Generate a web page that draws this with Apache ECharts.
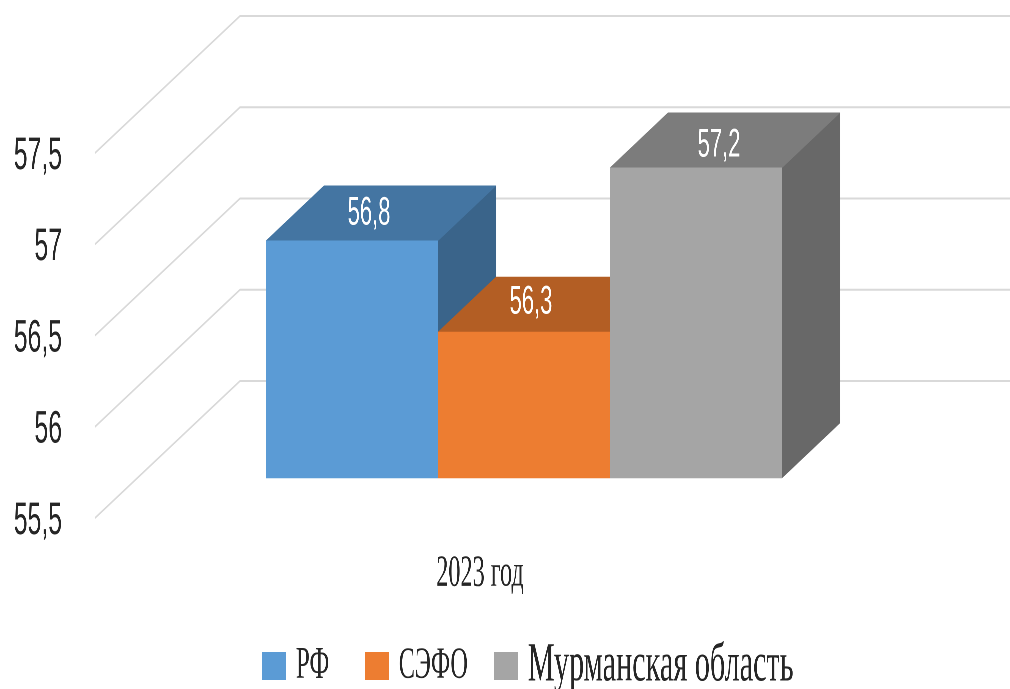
<!DOCTYPE html>
<html lang="ru">
<head>
<meta charset="utf-8">
<style>
html,body{margin:0;padding:0;background:#fff;overflow:hidden;width:1010px;height:689px}
#chart{position:absolute;left:0;top:0;height:689px;transform-origin:0 0}
</style>
<script src="https://cdn.jsdelivr.net/npm/echarts@6/dist/echarts.min.js"></script>
</head>
<body>
<div id="chart"></div>
<script>
const categories = ['2023 год'];
const seriesNames = ['РФ', 'СЭФО', 'Мурманская область'];
const valuesRF = [56.8];
const valuesSZFO = [56.3];
const valuesMurmansk = [57.2];
const yTicks = [55.5, 56, 56.5, 57, 57.5];

const frontColors = ['#5b9bd5', '#ed7d31', '#a5a5a5'];
const topColors = ['#4475a2', '#b35e24', '#7c7c7c'];
const sideColors = ['#3a648a', '#9c5120', '#686868'];

// The reference type is tall and very condensed: the whole chart is laid out wider and squeezed.
const SX = 0.55;
const px = v => v / SX;
document.getElementById('chart').style.width = px(1010) + 'px';
document.getElementById('chart').style.transform = 'scaleX(' + SX + ')';

const WALL_DX = px(145), WALL_DY = 137;
const INSET_DX = px(44), INSET_DY = 40;
const BAR_W = px(172), BAR_DX = px(58), BAR_DY = 55;
const LABEL_NUDGE = [[px(-12), 0], [px(-22), -2], [px(-6), 5]];
const LEGEND_LEFT = [262, 365, 494];
const LEGEND_FONT = [46, 44, 55];
const LEGEND_MID = 666;
const SANS = '"Liberation Sans", sans-serif';
const SERIF = '"Liberation Serif", serif';

const chart = echarts.init(document.getElementById('chart'), null, {
  renderer: 'canvas', width: px(1010), height: 689, devicePixelRatio: 2
});

function wallItem(params, api) {
  const p = api.coord([0, api.value(0)]);
  const cs = params.coordSys;
  return {
    type: 'polyline',
    shape: { points: [[cs.x, p[1]], [cs.x + WALL_DX, p[1] - WALL_DY], [cs.x + cs.width + WALL_DX, p[1] - WALL_DY]] },
    style: { fill: null, stroke: '#d9d9d9', lineWidth: 2 },
    silent: true
  };
}

function barItem(idx) {
  return function (params, api) {
    const value = api.value(1);
    const c = api.coord([api.value(0), value]);
    const b = api.coord([api.value(0), yTicks[0]]);
    const l = c[0] + INSET_DX + (idx - 1.5) * BAR_W;
    const r = l + BAR_W;
    const t = c[1] - INSET_DY;
    const bt = b[1] - INSET_DY;
    const poly = (points, fill) => ({ type: 'polygon', shape: { points }, style: { fill, stroke: fill, lineWidth: 0.5 } });
    return {
      type: 'group',
      children: [
        poly([[r, t], [r + BAR_DX, t - BAR_DY], [r + BAR_DX, bt - BAR_DY], [r, bt]], sideColors[idx]),
        poly([[l, t], [r, t], [r + BAR_DX, t - BAR_DY], [l + BAR_DX, t - BAR_DY]], topColors[idx]),
        poly([[l, t], [r, t], [r, bt], [l, bt]], frontColors[idx]),
        {
          type: 'text',
          z2: 10,
          style: {
            x: (l + r) / 2 + BAR_DX / 2 + LABEL_NUDGE[idx][0],
            y: t - BAR_DY / 2 + LABEL_NUDGE[idx][1],
            text: String(value).replace('.', ','),
            fill: '#ffffff',
            font: '40px ' + SANS,
            align: 'center',
            verticalAlign: 'middle'
          }
        }
      ]
    };
  };
}

const barSeries = [valuesRF, valuesSZFO, valuesMurmansk].map((vals, idx) => ({
  name: seriesNames[idx],
  type: 'custom',
  coordinateSystem: 'cartesian2d',
  clip: false,
  z: 5 + idx,
  itemStyle: { color: frontColors[idx] },
  encode: { x: 0, y: 1 },
  data: vals.map((v, i) => [i, v]),
  renderItem: barItem(idx)
}));

chart.setOption({
  animation: false,
  backgroundColor: '#ffffff',
  grid: { left: px(95), right: px(145), top: 153, bottom: 171 },
  legend: seriesNames.map((name, i) => ({
    data: [name],
    left: px(LEGEND_LEFT[i]),
    top: LEGEND_MID - LEGEND_FONT[i] / 2,
    padding: 0,
    icon: 'rect',
    itemWidth: px(24),
    itemHeight: 28,
    selectedMode: false,
    textStyle: { fontFamily: SERIF, fontSize: LEGEND_FONT[i], color: '#262626', padding: [0, 0, 0, px(7)] }
  })),
  xAxis: {
    type: 'category',
    data: categories,
    axisLine: { show: false },
    axisTick: { show: false },
    splitLine: { show: false },
    axisLabel: { fontFamily: SERIF, fontSize: 44, color: '#262626', margin: 34 }
  },
  yAxis: {
    type: 'value',
    min: 55.5,
    max: 57.5,
    interval: 0.5,
    axisLine: { show: false },
    axisTick: { show: false },
    splitLine: { show: false },
    axisLabel: {
      color: '#262626', margin: px(33),
      formatter: v => '{t|' + String(v).replace('.', ',') + '}',
      rich: { t: { fontFamily: SANS, fontSize: 45, color: '#262626', padding: [7, 0, 0, 0] } }
    }
  },
  series: [{
    name: 'Линии сетки',
    type: 'custom',
    coordinateSystem: 'cartesian2d',
    clip: false,
    z: 1,
    silent: true,
    encode: { y: 0 },
    data: yTicks.map(v => [v]),
    renderItem: wallItem
  }].concat(barSeries)
});
</script>
</body>
</html>
